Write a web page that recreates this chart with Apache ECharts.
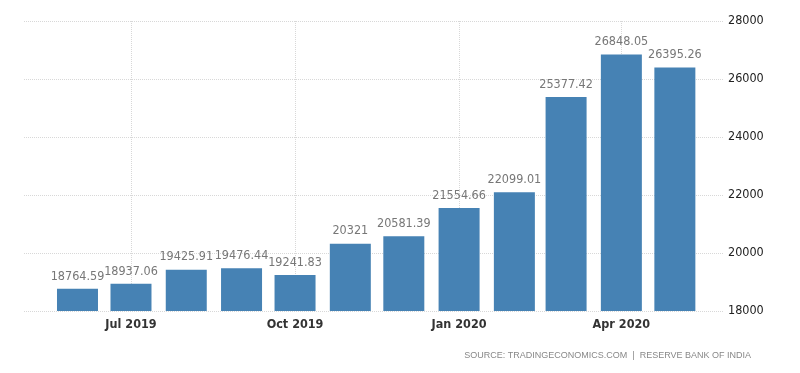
<!DOCTYPE html>
<html>
<head>
<meta charset="utf-8">
<script src="https://cdn.jsdelivr.net/npm/echarts@6/dist/echarts.min.js"></script>
<style>html,body{margin:0;padding:0;background:#fff}#c{width:800px;height:373px}</style>
</head>
<body>
<div id="c"></div>
<script>
var months = ['2019-06-01','2019-07-01','2019-08-01','2019-09-01','2019-10-01','2019-11-01','2019-12-01','2020-01-01','2020-02-01','2020-03-01','2020-04-01','2020-05-01'];
var values = [18764.59, 18937.06, 19425.91, 19476.44, 19241.83, 20321, 20581.39, 21554.66, 22099.01, 25377.42, 26848.05, 26395.26];
var labels = ['18764.59','18937.06','19425.91','19476.44','19241.83','20321','20581.39','21554.66','22099.01','25377.42','26848.05','26395.26'];
var monthNames = ['Jan','Feb','Mar','Apr','May','Jun','Jul','Aug','Sep','Oct','Nov','Dec'];
var FONT = '"DejaVu Sans Condensed", sans-serif';

var chart = echarts.init(document.getElementById('c'));
var data = months.map(function (m, i) { return [m, values[i]]; });
chart.setOption({
  animation: false,
  grid: { left: 24, right: 77, top: 21, bottom: 62 },
  xAxis: {
    type: 'time',
    min: '2019-05-13T12:00:00',
    max: '2020-05-16T12:00:00',
    splitNumber: 4,
    minInterval: 90 * 86400000,
    axisLine: { show: false },
    axisTick: { show: false },
    axisLabel: {
      color: '#333', fontSize: 12.5, fontWeight: 'bold', fontFamily: FONT, margin: 7,
      showMinLabel: false, showMaxLabel: false,
      formatter: function (v) { var d = new Date(v); return monthNames[d.getMonth()] + ' ' + d.getFullYear(); }
    },
    splitLine: { show: true, showMinLine: false, showMaxLine: false, lineStyle: { color: '#d8d8d8', type: 'dotted', width: 1 } }
  },
  yAxis: {
    type: 'value',
    position: 'right',
    min: 18000, max: 28000, interval: 2000,
    axisLine: { show: false },
    axisTick: { show: false },
    axisLabel: { color: '#222', fontSize: 12.5, fontFamily: FONT, margin: 5, formatter: function (v) { return String(v); } },
    splitLine: { lineStyle: { color: '#d8d8d8', type: 'dotted', width: 1 } }
  },
  series: [{
    type: 'bar',
    data: data,
    barWidth: 41,
    itemStyle: { color: '#4682b4' },
    label: {
      show: true, position: 'top', distance: 6,
      color: '#777', fontSize: 12.5, fontFamily: FONT,
      formatter: function (p) { return labels[p.dataIndex]; }
    }
  }],
  graphic: [{
    type: 'text', right: 49, top: 351,
    style: { text: 'SOURCE: TRADINGECONOMICS.COM  |  RESERVE BANK OF INDIA', fill: '#888', font: '9px "Liberation Sans"' }
  }]
});
</script>
</body>
</html>
